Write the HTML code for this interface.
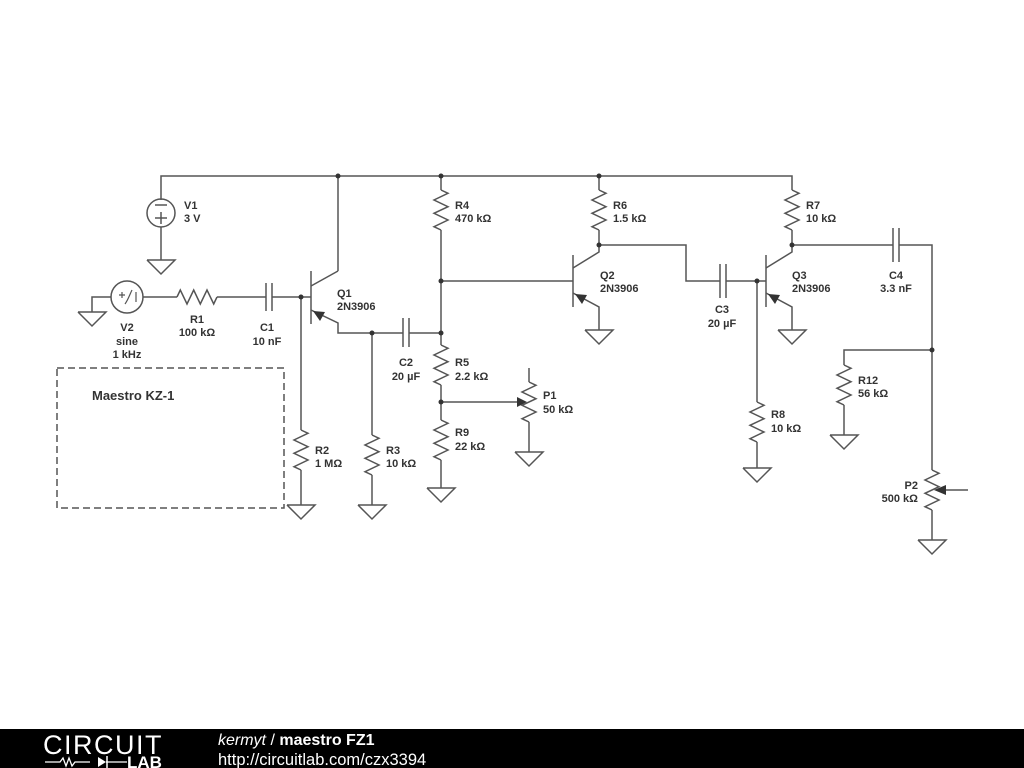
<!DOCTYPE html>
<html><head><meta charset="utf-8"><style>
body{margin:0;width:1024px;height:768px;background:#fff;overflow:hidden}
svg{position:absolute;left:0;top:0}
text{font-family:"Liberation Sans",sans-serif;font-size:11px;font-weight:bold;fill:#333}
</style></head><body>
<svg width="1024" height="768" viewBox="0 0 1024 768">
<defs>
<polyline id="rz" points="0,0 7,3.3 -7,10 7,16.7 -7,23.3 7,30 -7,36.7 0,40" fill="none"/>
<polyline id="gnd" points="-14,0 14,0 0,14 -14,0" fill="none"/>
</defs>
<g stroke="#555" stroke-width="1.5" fill="none">
<polyline points="161,200 161,176 792,176 792,190"/>
<line x1="338" y1="176" x2="338" y2="271"/>
<line x1="441" y1="176" x2="441" y2="190"/>
<line x1="599" y1="176" x2="599" y2="190"/>
<circle cx="161" cy="213" r="14"/>
<line x1="155" y1="205" x2="167" y2="205"/><line x1="155" y1="218" x2="167" y2="218"/><line x1="161" y1="212" x2="161" y2="224"/>
<line x1="161" y1="227" x2="161" y2="260"/>
<use href="#gnd" x="161" y="260"/>
<circle cx="127" cy="297" r="16"/>
<polyline points="111,297 92,297 92,312"/>
<use href="#gnd" x="92" y="312"/>
<path d="M119,295 h6 M122,292 v6 M125,304 C128,300 130,294 132,290 M136,292 v10" stroke-width="1.2"/>
<line x1="143" y1="297" x2="177" y2="297"/>
<use href="#rz" transform="translate(177,297) rotate(-90)"/>
<line x1="217" y1="297" x2="266" y2="297"/>
<line x1="266" y1="283" x2="266" y2="311"/><line x1="272" y1="283" x2="272" y2="311"/>
<line x1="272" y1="297" x2="311" y2="297"/>
<line x1="311" y1="271" x2="311" y2="324"/>
<line x1="311" y1="286" x2="338" y2="271"/>
<polyline points="311,310 338,323 338,333 403,333"/>
<line x1="409" y1="333" x2="441" y2="333"/>
<line x1="403" y1="318" x2="403" y2="347"/><line x1="409" y1="318" x2="409" y2="347"/>
<line x1="301" y1="297" x2="301" y2="430"/>
<use href="#rz" x="301" y="430"/>
<line x1="301" y1="470" x2="301" y2="505"/>
<use href="#gnd" x="301" y="505"/>
<line x1="372" y1="333" x2="372" y2="435"/>
<use href="#rz" x="372" y="435"/>
<line x1="372" y1="475" x2="372" y2="505"/>
<use href="#gnd" x="372" y="505"/>
<use href="#rz" x="441" y="190"/>
<line x1="441" y1="230" x2="441" y2="345"/>
<use href="#rz" x="441" y="345"/>
<line x1="441" y1="385" x2="441" y2="420"/>
<use href="#rz" x="441" y="420"/>
<line x1="441" y1="460" x2="441" y2="488"/>
<use href="#gnd" x="441" y="488"/>
<line x1="441" y1="281" x2="573" y2="281"/>
<polyline points="529,368 529,382"/>
<use href="#rz" x="529" y="382"/>
<line x1="529" y1="422" x2="529" y2="452"/>
<use href="#gnd" x="529" y="452"/>
<line x1="441" y1="402" x2="520" y2="402"/>
<line x1="573" y1="255" x2="573" y2="307"/>
<polyline points="573,268 599,252 599,230"/>
<use href="#rz" x="599" y="190"/>
<polyline points="573,293 599,307 599,330"/>
<use href="#gnd" x="599" y="330"/>
<polyline points="599,245 686,245 686,281 720,281"/>
<line x1="720" y1="264" x2="720" y2="298"/><line x1="726" y1="264" x2="726" y2="298"/>
<line x1="726" y1="281" x2="766" y2="281"/>
<line x1="766" y1="255" x2="766" y2="307"/>
<polyline points="766,268 792,252 792,230"/>
<use href="#rz" x="792" y="190"/>
<polyline points="766,293 792,307 792,330"/>
<use href="#gnd" x="792" y="330"/>
<line x1="757" y1="281" x2="757" y2="402"/>
<use href="#rz" x="757" y="402"/>
<line x1="757" y1="442" x2="757" y2="468"/>
<use href="#gnd" x="757" y="468"/>
<line x1="792" y1="245" x2="893" y2="245"/>
<line x1="893" y1="228" x2="893" y2="262"/><line x1="899" y1="228" x2="899" y2="262"/>
<polyline points="899,245 932,245 932,470"/>
<use href="#rz" x="932" y="470"/>
<line x1="932" y1="510" x2="932" y2="540"/>
<use href="#gnd" x="932" y="540"/>
<line x1="945" y1="490" x2="968" y2="490"/>
<polyline points="932,350 844,350 844,365"/>
<use href="#rz" x="844" y="365"/>
<line x1="844" y1="405" x2="844" y2="435"/>
<use href="#gnd" x="844" y="435"/>
<rect x="57" y="368" width="227" height="140" stroke-dasharray="7,4"/>
</g>
<g fill="#333">
<circle cx="338" cy="176" r="2.5"/><circle cx="441" cy="176" r="2.5"/><circle cx="599" cy="176" r="2.5"/>
<circle cx="301" cy="297" r="2.5"/><circle cx="372" cy="333" r="2.5"/><circle cx="441" cy="333" r="2.5"/>
<circle cx="441" cy="281" r="2.5"/><circle cx="441" cy="402" r="2.5"/><circle cx="599" cy="245" r="2.5"/>
<circle cx="792" cy="245" r="2.5"/><circle cx="757" cy="281" r="2.5"/><circle cx="932" cy="350" r="2.5"/>
<polygon points="313,311 325,312 320,321"/>
<polygon points="575,294 587,295 582,304"/>
<polygon points="768,294 780,295 775,304"/>
<polygon points="527,402 517,397 517,407"/>
<polygon points="934,490 946,485 946,495"/>
</g>
<text x="184" y="209">V1</text><text x="184" y="222">3 V</text>
<text x="127" y="331" text-anchor="middle">V2</text><text x="127" y="345" text-anchor="middle">sine</text><text x="127" y="358" text-anchor="middle">1 kHz</text>
<text x="197" y="323" text-anchor="middle">R1</text><text x="197" y="336" text-anchor="middle">100 kΩ</text>
<text x="267" y="331" text-anchor="middle">C1</text><text x="267" y="345" text-anchor="middle">10 nF</text>
<text x="337" y="297">Q1</text><text x="337" y="310">2N3906</text>
<text x="406" y="366" text-anchor="middle">C2</text><text x="406" y="380" text-anchor="middle">20 µF</text>
<text x="455" y="209">R4</text><text x="455" y="222">470 kΩ</text>
<text x="455" y="366">R5</text><text x="455" y="380">2.2 kΩ</text>
<text x="455" y="436">R9</text><text x="455" y="450">22 kΩ</text>
<text x="543" y="399">P1</text><text x="543" y="413">50 kΩ</text>
<text x="315" y="454">R2</text><text x="315" y="467">1 MΩ</text>
<text x="386" y="454">R3</text><text x="386" y="467">10 kΩ</text>
<text x="613" y="209">R6</text><text x="613" y="222">1.5 kΩ</text>
<text x="600" y="279">Q2</text><text x="600" y="292">2N3906</text>
<text x="722" y="313" text-anchor="middle">C3</text><text x="722" y="327" text-anchor="middle">20 µF</text>
<text x="806" y="209">R7</text><text x="806" y="222">10 kΩ</text>
<text x="792" y="279">Q3</text><text x="792" y="292">2N3906</text>
<text x="896" y="279" text-anchor="middle">C4</text><text x="896" y="292" text-anchor="middle">3.3 nF</text>
<text x="771" y="418">R8</text><text x="771" y="432">10 kΩ</text>
<text x="858" y="384">R12</text><text x="858" y="397">56 kΩ</text>
<text x="918" y="489" text-anchor="end">P2</text><text x="918" y="502" text-anchor="end">500 kΩ</text>
<text x="92" y="400" style="font-size:13px;fill:#333">Maestro KZ-1</text>
<rect x="0" y="729" width="1024" height="39" fill="#000"/>
<text x="43" y="754" style="font-size:27px;font-weight:normal;fill:#fff;letter-spacing:1.5px">CIRCUIT</text>
<text x="127" y="768" style="font-size:17px;font-weight:bold;fill:#fff">LAB</text>
<polyline points="45,762 60,762 63,758 66,766 69,758 72,766 75,762 90,762" stroke="#fff" stroke-width="1.3" fill="none"/>
<polygon points="98,757 98,767 106,762" fill="#fff"/><line x1="107" y1="756" x2="107" y2="768" stroke="#fff" stroke-width="1.5"/><line x1="106" y1="762" x2="127" y2="762" stroke="#fff" stroke-width="1.3"/>
<text x="218" y="745" style="font-size:16px;font-weight:normal;fill:#fff"><tspan font-style="italic">kermyt</tspan> / <tspan font-weight="bold">maestro FZ1</tspan></text>
<text x="218" y="765" style="font-size:16.5px;font-weight:normal;fill:#fff">http://circuitlab.com/czx3394</text>
</svg>
</body></html>
